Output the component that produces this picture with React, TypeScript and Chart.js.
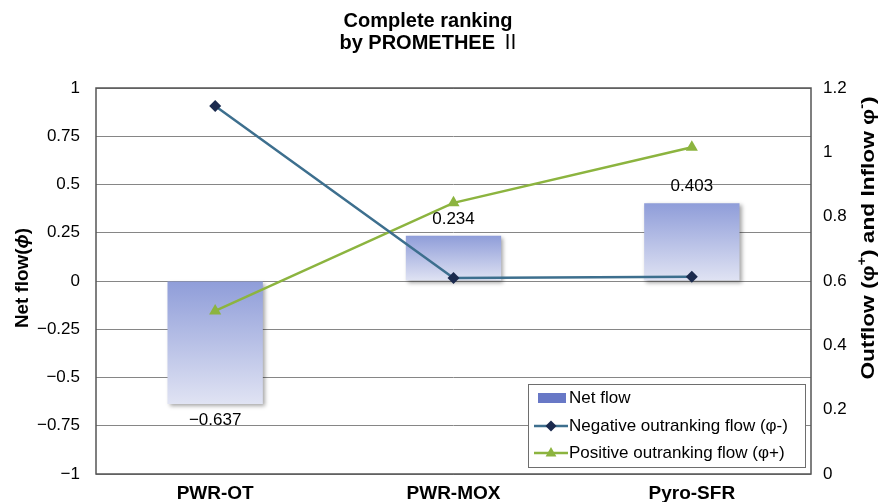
import React, { useEffect, useRef } from 'react';
import { Chart, registerables } from 'chart.js';

Chart.register(...registerables);

const categories = ['PWR-OT', 'PWR-MOX', 'Pyro-SFR'];
const netFlow = [-0.637, 0.234, 0.403];
const negativeFlow = [1.144, 0.609, 0.613];
const positiveFlow = [0.507, 0.843, 1.016];
const netLabels = ['\u22120.637', '0.234', '0.403'];
const titleLine1 = 'Complete ranking';
const titleLine2 = 'by PROMETHEE ';
const titleNumeral = '\u2161';
const legendLabels = ['Net flow', 'Negative outranking flow (\u03c6-)', 'Positive outranking flow (\u03c6+)'];
const leftTitleParts = [
  { text: 'Net flow(', style: 'bold', sup: false },
  { text: '\u03d5', style: 'italic bold', sup: false },
  { text: ')', style: 'bold', sup: false },
];
const rightTitleParts = [
  { text: 'Outflow (\u03c6', style: 'bold', sup: false },
  { text: '+', style: 'bold', sup: true },
  { text: ') and Inflow \u03c6', style: 'bold', sup: false },
  { text: '-', style: 'bold', sup: true },
  { text: ')', style: 'bold', sup: false },
];

const FONT = 'Arial, "Liberation Sans", Helvetica, sans-serif';
const CJK = '"Noto Sans CJK JP", "Noto Sans CJK SC", sans-serif';
const NEG_LINE = '#3d6f8e';
const NEG_POINT = '#1b2a4e';
const POS_COLOR = '#8cb43f';

function fmt(v: number): string {
  const n = parseFloat(v.toFixed(2));
  return String(n).replace('-', '\u2212');
}

function drawRotatedFitted(ctx: CanvasRenderingContext2D, parts: any[], cx: number, cy: number, targetLen: number, size: number) {
  ctx.save();
  ctx.translate(cx, cy);
  ctx.rotate(-Math.PI / 2);
  const widths = parts.map((p) => {
    ctx.font = `${p.style} ${p.sup ? Math.round(size * 0.65) : size}px ${FONT}`;
    return ctx.measureText(p.text).width;
  });
  const total = widths.reduce((a, b) => a + b, 0);
  ctx.scale(targetLen / total, 1);
  let x = -total / 2;
  ctx.fillStyle = '#000';
  ctx.textBaseline = 'middle';
  ctx.textAlign = 'left';
  parts.forEach((p, i) => {
    ctx.font = `${p.style} ${p.sup ? Math.round(size * 0.65) : size}px ${FONT}`;
    ctx.fillText(p.text, x, p.sup ? -size * 0.35 : 0);
    x += widths[i];
  });
  ctx.restore();
}

function drawDiamond(ctx: CanvasRenderingContext2D, x: number, y: number, r: number, color: string) {
  ctx.beginPath();
  ctx.moveTo(x, y - r);
  ctx.lineTo(x + r, y);
  ctx.lineTo(x, y + r);
  ctx.lineTo(x - r, y);
  ctx.closePath();
  ctx.fillStyle = color;
  ctx.fill();
}

function drawTriangle(ctx: CanvasRenderingContext2D, x: number, y: number, r: number, color: string) {
  ctx.beginPath();
  ctx.moveTo(x, y - r);
  ctx.lineTo(x + r * 0.9, y + r * 0.6);
  ctx.lineTo(x - r * 0.9, y + r * 0.6);
  ctx.closePath();
  ctx.fillStyle = color;
  ctx.fill();
}

const decorPlugin = {
  id: 'decor',
  beforeDatasetDraw(chart: any, args: any) {
    if (args.index === 0) {
      const ctx = chart.ctx;
      ctx.save();
      ctx.shadowColor = 'rgba(0,0,0,0.35)';
      ctx.shadowBlur = 4;
      ctx.shadowOffsetX = 2;
      ctx.shadowOffsetY = 2;
    }
  },
  afterDatasetDraw(chart: any, args: any) {
    if (args.index === 0) chart.ctx.restore();
  },
  afterDraw(chart: any) {
    const ctx: CanvasRenderingContext2D = chart.ctx;
    const a = chart.chartArea;
    ctx.save();
    // plot frame
    ctx.strokeStyle = '#555555';
    ctx.lineWidth = 1.5;
    ctx.strokeRect(a.left, a.top, a.right - a.left, a.bottom - a.top);

    // data labels
    const meta = chart.getDatasetMeta(0);
    ctx.font = `17px ${FONT}`;
    ctx.fillStyle = '#000';
    ctx.textAlign = 'center';
    ctx.textBaseline = 'middle';
    meta.data.forEach((el: any, i: number) => {
      const v = netFlow[i];
      const y = v >= 0 ? el.y - 17 : el.y + 16;
      ctx.fillText(netLabels[i], el.x, y);
    });

    // title
    ctx.font = `bold 20px ${FONT}`;
    ctx.textBaseline = 'alphabetic';
    ctx.fillText(titleLine1, 428, 27);
    const w2 = ctx.measureText(titleLine2).width;
    ctx.font = `20px ${CJK}`;
    const w3 = ctx.measureText(titleNumeral).width;
    const start = 430 - (w2 + w3) / 2;
    ctx.textAlign = 'left';
    ctx.font = `bold 20px ${FONT}`;
    ctx.fillText(titleLine2, start, 49);
    ctx.font = `20px ${CJK}`;
    ctx.fillText(titleNumeral, start + w2, 49);

    // axis titles
    drawRotatedFitted(ctx, leftTitleParts, 23, 278, 100, 19);
    drawRotatedFitted(ctx, rightTitleParts, 869, 238, 283, 19);

    // legend
    const lx = 528, ly = 384, lw = 277, lh = 83;
    ctx.fillStyle = '#ffffff';
    ctx.fillRect(lx, ly, lw, lh);
    ctx.strokeStyle = '#6e6e6e';
    ctx.lineWidth = 1;
    ctx.strokeRect(lx + 0.5, ly + 0.5, lw, lh);

    ctx.font = `17px ${FONT}`;
    ctx.textAlign = 'left';
    ctx.textBaseline = 'middle';
    const rows = [398, 426, 453];
    ctx.fillStyle = '#6878c6';
    ctx.fillRect(538, 393, 28, 10);
    ctx.strokeStyle = NEG_LINE;
    ctx.lineWidth = 2.5;
    ctx.beginPath();
    ctx.moveTo(534, rows[1]);
    ctx.lineTo(568, rows[1]);
    ctx.stroke();
    drawDiamond(ctx, 551, rows[1], 5.5, NEG_POINT);
    ctx.strokeStyle = POS_COLOR;
    ctx.beginPath();
    ctx.moveTo(534, rows[2]);
    ctx.lineTo(568, rows[2]);
    ctx.stroke();
    drawTriangle(ctx, 551, rows[2], 6, POS_COLOR);

    ctx.fillStyle = '#000';
    legendLabels.forEach((t, i) => ctx.fillText(t, 569, rows[i]));
    ctx.restore();
  },
};

export default function App() {
  const ref = useRef<HTMLCanvasElement | null>(null);

  useEffect(() => {
    document.body.style.margin = '0';
    document.body.style.overflow = 'hidden';
    const canvas = ref.current;
    if (!canvas) return;
    const chart = new Chart(canvas, {
      type: 'bar',
      data: {
        labels: categories,
        datasets: [
          {
            type: 'bar',
            label: legendLabels[0],
            data: netFlow,
            yAxisID: 'y',
            order: 2,
            categoryPercentage: 1,
            barPercentage: 0.4,
            borderWidth: 0,
            backgroundColor: (c: any) => {
              const ch = c.chart;
              const sc = ch.scales && ch.scales.y;
              if (!ch.chartArea || !sc || c.dataIndex === undefined) return '#a9b3e0';
              const v = netFlow[c.dataIndex];
              const y0 = sc.getPixelForValue(0);
              const y1 = sc.getPixelForValue(v);
              const top = Math.min(y0, y1);
              const bot = Math.max(y0, y1);
              const g = ch.ctx.createLinearGradient(0, top, 0, bot);
              g.addColorStop(0, '#8f9dd9');
              g.addColorStop(1, '#e0e3f3');
              return g;
            },
          } as any,
          {
            type: 'line',
            label: legendLabels[1],
            data: negativeFlow,
            yAxisID: 'y1',
            order: 0,
            borderColor: NEG_LINE,
            borderWidth: 2.5,
            pointStyle: 'rectRot',
            pointRadius: 6,
            pointBackgroundColor: NEG_POINT,
            pointBorderColor: NEG_POINT,
            pointBorderWidth: 0,
            tension: 0,
          } as any,
          {
            type: 'line',
            label: legendLabels[2],
            data: positiveFlow,
            yAxisID: 'y1',
            order: 1,
            borderColor: POS_COLOR,
            borderWidth: 2.5,
            pointStyle: 'triangle',
            pointRadius: 7,
            pointBackgroundColor: POS_COLOR,
            pointBorderColor: POS_COLOR,
            pointBorderWidth: 0,
            tension: 0,
          } as any,
        ],
      },
      options: {
        responsive: false,
        animation: false,
        devicePixelRatio: 1,
        layout: { padding: { top: 88, left: 0, right: 0, bottom: 0 } },
        plugins: {
          legend: { display: false },
          title: { display: false },
          tooltip: { enabled: false },
        },
        scales: {
          x: {
            offset: true,
            grid: { display: false },
            border: { display: false },
            ticks: {
              color: '#000',
              padding: 0,
              font: { family: FONT, size: 19, weight: 'bold' },
            },
            afterFit: (s: any) => { s.height = 28; },
          },
          y: {
            position: 'left',
            min: -1,
            max: 1,
            grid: { color: '#868686', lineWidth: 1, drawTicks: false },
            border: { display: false },
            ticks: {
              stepSize: 0.25,
              color: '#000',
              padding: 16,
              font: { family: FONT, size: 17 },
              callback: (v: any) => fmt(Number(v)),
            },
            afterFit: (s: any) => { s.width = 96; },
          },
          y1: {
            position: 'right',
            min: 0,
            max: 1.2,
            grid: { display: false, drawTicks: false },
            border: { display: false },
            ticks: {
              stepSize: 0.2,
              color: '#000',
              padding: 12,
              font: { family: FONT, size: 17 },
              callback: (v: any) => fmt(Number(v)),
            },
            afterFit: (s: any) => { s.width = 70; },
          },
        },
      } as any,
      plugins: [decorPlugin],
    });
    return () => chart.destroy();
  }, []);

  return (
    <div style={{ width: 881, height: 502 }}>
      <canvas ref={ref} width={881} height={502} style={{ display: 'block' }} />
    </div>
  );
}
